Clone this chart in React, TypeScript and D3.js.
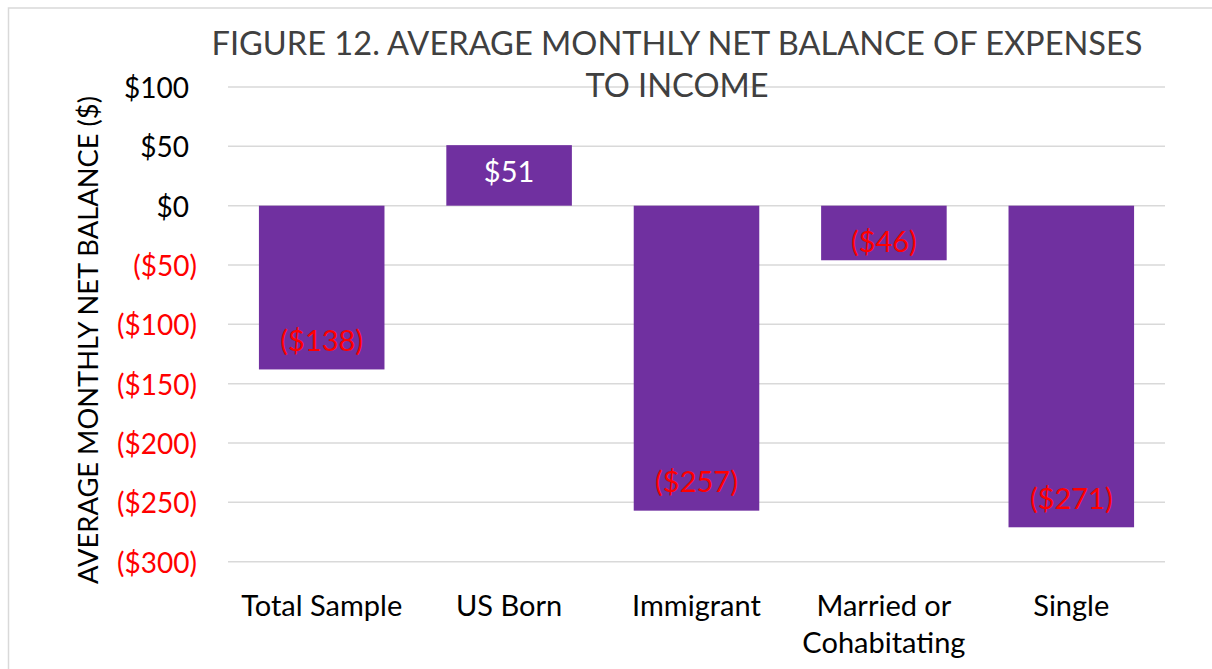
import React from "react";
import * as d3 from "d3";

const categories: string[][] = [["Total Sample"], ["US Born"], ["Immigrant"], ["Married or", "Cohabitating"], ["Single"]];
const values: number[] = [-138, 51, -257, -46, -271];
const yTicks: number[] = [100, 50, 0, -50, -100, -150, -200, -250, -300];
const titleLines: string[] = ["FIGURE 12. AVERAGE MONTHLY NET BALANCE OF EXPENSES", "TO INCOME"];
const yAxisTitle = "AVERAGE MONTHLY NET BALANCE ($)";

const W = 1212;
const H = 669;
const FONT = "Lato, 'Open Sans', sans-serif";

const fmt = (v: number) => (v < 0 ? `($${Math.abs(v)})` : `$${v}`);

export default function App() {
  const left = 228;
  const right = 1165;
  const x = d3
    .scaleBand<number>()
    .domain(d3.range(values.length))
    .range([left, right])
    .paddingInner(0.33)
    .paddingOuter(0.165);
  const y = d3.scaleLinear().domain([-300, 100]).range([561.7, 87]);

  return (
    <svg width={W} height={H} style={{ position: "absolute", left: 0, top: 0 }} fontFamily={FONT}>
      <rect x={0} y={0} width={W} height={H} fill="#fff" />
      <rect x={8.5} y={8} width={W + 10} height={H + 10} fill="none" stroke="#d9d9d9" strokeWidth={1.5} />
      {yTicks.map((t) => (
        <g key={t}>
          <line x1={left} x2={right} y1={y(t)} y2={y(t)} stroke="#d9d9d9" strokeWidth={1.5} />
          <text
            x={t < 0 ? 197 : 189}
            y={y(t)}
            textAnchor="end"
            dominantBaseline="central"
            fontSize={28}
            fill={t < 0 ? "#ff0000" : "#000"}
          >
            {fmt(t)}
          </text>
        </g>
      ))}
      {titleLines.map((l, i) => (
        <text key={i} x={677} y={55 + i * 42} textAnchor="middle" fontSize={32.6} fill="#404040">
          {l}
        </text>
      ))}
      <text
        transform={`translate(98,${340}) rotate(-90)`}
        textAnchor="middle"
        fontSize={27.3}
        fill="#000"
      >
        {yAxisTitle}
      </text>
      {values.map((v, i) => {
        const x0 = x(i)!;
        const y0 = y(0);
        const y1 = y(v);
        const len = Math.abs(y1 - y0);
        const off = Math.min(30, len - 35);
        const ly = v < 0 ? y1 - off : y1 + off;
        return (
          <g key={i}>
            <rect x={x0} width={x.bandwidth()} y={Math.min(y0, y1)} height={len} fill="#7030a0" />
            <text
              x={x0 + x.bandwidth() / 2}
              y={ly}
              textAnchor="middle"
              dominantBaseline="central"
              fontSize={29}
              fill={v < 0 ? "#ff0000" : "#fff"}
            >
              {fmt(v)}
            </text>
          </g>
        );
      })}
      {categories.map((c, i) => (
        <text key={i} x={x(i)! + x.bandwidth() / 2} y={604} textAnchor="middle" fontSize={29} fill="#000">
          {c.map((line, j) => (
            <tspan key={j} x={x(i)! + x.bandwidth() / 2} y={604 + j * 37} dominantBaseline="central">
              {line}
            </tspan>
          ))}
        </text>
      ))}
    </svg>
  );
}
